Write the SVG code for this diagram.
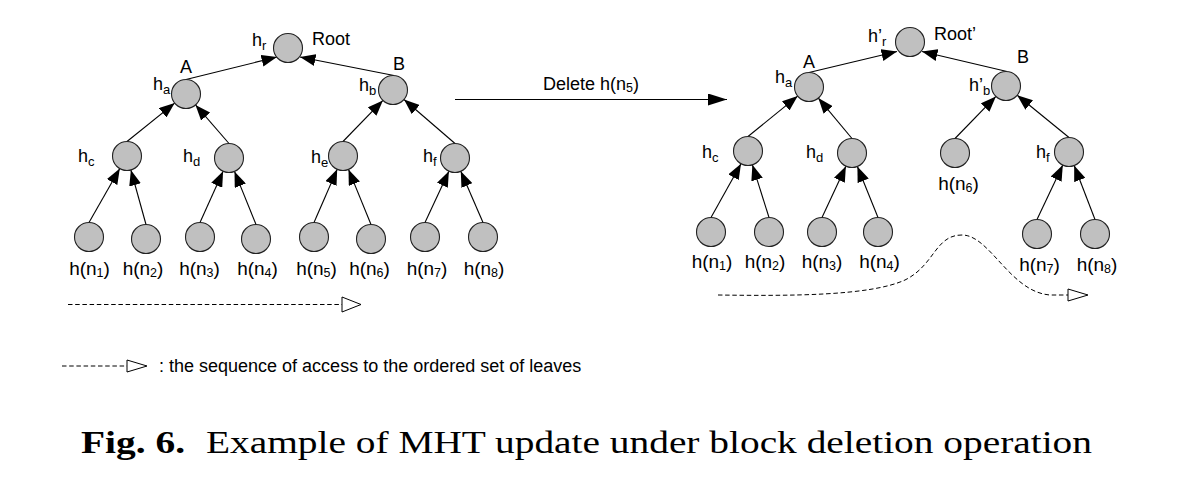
<svg xmlns="http://www.w3.org/2000/svg" width="1181" height="493" viewBox="0 0 1181 493">
<style>
.n{fill:#c0c0c0;stroke:#222;stroke-width:1.1}
.e{stroke:#000;stroke-width:1.1;fill:none;marker-end:url(#ah)}
.t{font-family:"Liberation Sans",Arial,sans-serif;font-size:18px;fill:#000}
.l{font-size:19px}
.s{font-size:13px}
.d{font-size:12.5px}
.dash{stroke:#000;stroke-width:1;fill:none;stroke-dasharray:4.5 2.7}
.tri{fill:#fff;stroke:#000;stroke-width:1}
.cap{font-family:"Liberation Serif","Times New Roman",serif;font-size:31px;fill:#000}
</style>
<defs>
<marker id="ah" markerUnits="userSpaceOnUse" markerWidth="16" markerHeight="12" refX="15.5" refY="6" orient="auto"><path d="M0,0 L15.5,6 L0,12 z" fill="#000"/></marker>
<marker id="big" markerUnits="userSpaceOnUse" markerWidth="19" markerHeight="12" refX="19" refY="6" orient="auto"><path d="M0,0 L19,6 L0,12 z" fill="#000"/></marker>
</defs>

<g id="connectors">
<path class="e" d="M186,79.5 L277,57"/>
<path class="e" d="M394,75.5 L300,57"/>
<path class="e" d="M127,141.5 L174.7,103.1"/>
<path class="e" d="M229,143.5 L195.5,104.9"/>
<path class="e" d="M343,141.5 L382.9,100.4"/>
<path class="e" d="M455,143.5 L404,99.5"/>
<path class="e" d="M89,222.5 L119.8,168.6"/>
<path class="e" d="M146,224.5 L130.9,170"/>
<path class="e" d="M200,222.5 L223.1,171.2"/>
<path class="e" d="M256,224.5 L234.5,171.4"/>
<path class="e" d="M314,222.5 L337.2,169.3"/>
<path class="e" d="M371,224.5 L348.5,169.4"/>
<path class="e" d="M425,222.5 L448.9,171.2"/>
<path class="e" d="M483,222.5 L460.8,171.3"/>

<path class="e" d="M809,72.5 L897,51.5"/>
<path class="e" d="M1007,71.5 L922,51.5"/>
<path class="e" d="M748,136.5 L797.7,96.1"/>
<path class="e" d="M852,138.5 L818.3,98.1"/>
<path class="e" d="M955,138.5 L995.9,96.4"/>
<path class="e" d="M1069,137.5 L1017.2,95.2"/>
<path class="e" d="M711,217.5 L741,163.7"/>
<path class="e" d="M769,217.5 L752.4,164.8"/>
<path class="e" d="M822,217.5 L845.9,166.2"/>
<path class="e" d="M878,217.5 L857.4,166.5"/>
<path class="e" d="M1037,219.5 L1062.8,165.1"/>
<path class="e" d="M1095,219.5 L1074.2,165.5"/>

<path d="M455,99.5 L727,99.5" stroke="#000" stroke-width="1.1" fill="none" marker-end="url(#big)"/>

<path class="dash" d="M68,304.5 L342,304.5"/>
<polygon class="tri" points="342,297 361,304.5 342,312"/>
<path class="dash" d="M718,295 C790,296 870,296 905,280 C935,265 935,235 962,235 C990,235 1010,292 1050,295 L1068,295"/>
<polygon class="tri" points="1068,289 1088,295 1068,301"/>
<path class="dash" d="M62,366 L127,366"/>
<polygon class="tri" points="127,360 147,366 127,372"/>
</g>

<g id="left-root"><circle class="n" cx="288" cy="48" r="14.5"/><text class="t" x="252" y="46">h<tspan class="s" dy="3.5">r</tspan></text><text class="t" x="312" y="45">Root</text></g>
<g id="left-A"><circle class="n" cx="186" cy="94" r="14.5"/><text class="t" x="180" y="73">A</text><text class="t" x="153" y="90">h<tspan class="s" dy="3.5">a</tspan></text></g>
<g id="left-B"><circle class="n" cx="393" cy="90" r="14.5"/><text class="t" x="393" y="70">B</text><text class="t" x="359" y="91">h<tspan class="s" dy="3.5">b</tspan></text></g>
<g id="left-hc"><circle class="n" cx="127" cy="156" r="14.5"/><text class="t" x="78" y="162">h<tspan class="s" dy="3.5">c</tspan></text></g>
<g id="left-hd"><circle class="n" cx="229" cy="158" r="14.5"/><text class="t" x="183" y="162">h<tspan class="s" dy="3.5">d</tspan></text></g>
<g id="left-he"><circle class="n" cx="343" cy="156" r="14.5"/><text class="t" x="311" y="163">h<tspan class="s" dy="3.5">e</tspan></text></g>
<g id="left-hf"><circle class="n" cx="455" cy="158" r="14.5"/><text class="t" x="423" y="162">h<tspan class="s" dy="3.5">f</tspan></text></g>

<g id="left-n1"><circle class="n" cx="89" cy="237" r="14.5"/><text class="t l" x="89.5" y="275" text-anchor="middle">h(n<tspan class="d" dy="2">1</tspan><tspan dy="-2">)</tspan></text></g>
<g id="left-n2"><circle class="n" cx="146" cy="239" r="14.5"/><text class="t l" x="143" y="275" text-anchor="middle">h(n<tspan class="d" dy="2">2</tspan><tspan dy="-2">)</tspan></text></g>
<g id="left-n3"><circle class="n" cx="200" cy="237" r="14.5"/><text class="t l" x="199.5" y="275" text-anchor="middle">h(n<tspan class="d" dy="2">3</tspan><tspan dy="-2">)</tspan></text></g>
<g id="left-n4"><circle class="n" cx="256" cy="239" r="14.5"/><text class="t l" x="257.5" y="275" text-anchor="middle">h(n<tspan class="d" dy="2">4</tspan><tspan dy="-2">)</tspan></text></g>
<g id="left-n5"><circle class="n" cx="314" cy="237" r="14.5"/><text class="t l" x="316.5" y="275" text-anchor="middle">h(n<tspan class="d" dy="2">5</tspan><tspan dy="-2">)</tspan></text></g>
<g id="left-n6"><circle class="n" cx="371" cy="239" r="14.5"/><text class="t l" x="369.5" y="275" text-anchor="middle">h(n<tspan class="d" dy="2">6</tspan><tspan dy="-2">)</tspan></text></g>
<g id="left-n7"><circle class="n" cx="425" cy="237" r="14.5"/><text class="t l" x="427" y="275" text-anchor="middle">h(n<tspan class="d" dy="2">7</tspan><tspan dy="-2">)</tspan></text></g>
<g id="left-n8"><circle class="n" cx="483" cy="237" r="14.5"/><text class="t l" x="484" y="275" text-anchor="middle">h(n<tspan class="d" dy="2">8</tspan><tspan dy="-2">)</tspan></text></g>

<g id="delete-label"><text class="t" x="543" y="90">Delete h(n<tspan class="d" dy="2">5</tspan><tspan dy="-2">)</tspan></text></g>

<g id="right-root"><circle class="n" cx="910" cy="42" r="14.5"/><text class="t" x="868" y="42">h’<tspan class="s" dy="3.5">r</tspan></text><text class="t" x="934" y="40">Root’</text></g>
<g id="right-A"><circle class="n" cx="809" cy="87" r="14.5"/><text class="t" x="803" y="68">A</text><text class="t" x="775" y="83">h<tspan class="s" dy="3.5">a</tspan></text></g>
<g id="right-B"><circle class="n" cx="1006" cy="86" r="14.5"/><text class="t" x="1017" y="63">B</text><text class="t" x="969" y="91">h’<tspan class="s" dy="3.5">b</tspan></text></g>
<g id="right-hc"><circle class="n" cx="748" cy="151" r="14.5"/><text class="t" x="702" y="158">h<tspan class="s" dy="3.5">c</tspan></text></g>
<g id="right-hd"><circle class="n" cx="852" cy="153" r="14.5"/><text class="t" x="806" y="158">h<tspan class="s" dy="3.5">d</tspan></text></g>
<g id="right-n6"><circle class="n" cx="955" cy="153" r="14.5"/><text class="t l" x="958.5" y="190" text-anchor="middle">h(n<tspan class="d" dy="2">6</tspan><tspan dy="-2">)</tspan></text></g>
<g id="right-hf"><circle class="n" cx="1069" cy="152" r="14.5"/><text class="t" x="1036" y="158">h<tspan class="s" dy="3.5">f</tspan></text></g>

<g id="right-n1"><circle class="n" cx="711" cy="232" r="14.5"/><text class="t l" x="712" y="268" text-anchor="middle">h(n<tspan class="d" dy="2">1</tspan><tspan dy="-2">)</tspan></text></g>
<g id="right-n2"><circle class="n" cx="769" cy="232" r="14.5"/><text class="t l" x="765" y="268" text-anchor="middle">h(n<tspan class="d" dy="2">2</tspan><tspan dy="-2">)</tspan></text></g>
<g id="right-n3"><circle class="n" cx="822" cy="232" r="14.5"/><text class="t l" x="822" y="268" text-anchor="middle">h(n<tspan class="d" dy="2">3</tspan><tspan dy="-2">)</tspan></text></g>
<g id="right-n4"><circle class="n" cx="878" cy="232" r="14.5"/><text class="t l" x="879.5" y="268" text-anchor="middle">h(n<tspan class="d" dy="2">4</tspan><tspan dy="-2">)</tspan></text></g>
<g id="right-n7"><circle class="n" cx="1037" cy="234" r="14.5"/><text class="t l" x="1039.5" y="271" text-anchor="middle">h(n<tspan class="d" dy="2">7</tspan><tspan dy="-2">)</tspan></text></g>
<g id="right-n8"><circle class="n" cx="1095" cy="234" r="14.5"/><text class="t l" x="1097" y="271" text-anchor="middle">h(n<tspan class="d" dy="2">8</tspan><tspan dy="-2">)</tspan></text></g>

<g id="legend"><text class="t" x="159" y="372">: the sequence of access to the ordered set of leaves</text></g>

<g id="caption">
<text class="cap" x="81" y="453" font-weight="bold" textLength="104" lengthAdjust="spacingAndGlyphs">Fig. 6.</text>
<text class="cap" x="206" y="453" textLength="886" lengthAdjust="spacingAndGlyphs">Example of MHT update under block deletion operation</text>
</g>
</svg>
